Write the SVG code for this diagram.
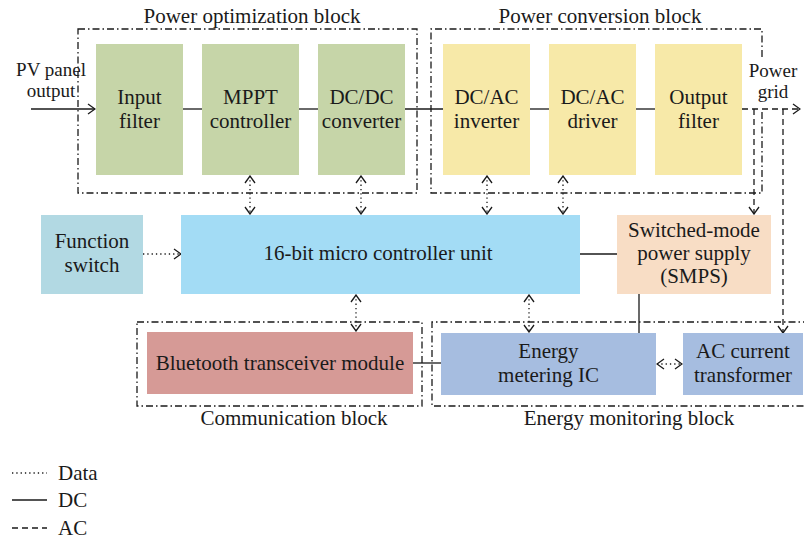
<svg xmlns="http://www.w3.org/2000/svg" width="804" height="541" viewBox="0 0 804 541">
<defs>
<style>
text{font-family:"Liberation Serif","Times New Roman",serif;font-size:21px;fill:#1a1a1a;text-anchor:middle}
.sm{font-size:19px}
.blk{fill:none;stroke:#1a1a1a;stroke-width:1.3;stroke-dasharray:7 3 1.5 3}
.dc{fill:none;stroke:#1a1a1a;stroke-width:1.3}
.ac{fill:none;stroke:#1a1a1a;stroke-width:1.3;stroke-dasharray:6 4}
.data{fill:none;stroke:#1a1a1a;stroke-width:1.3;stroke-dasharray:1.3 3}
.g{fill:#c6d5a8}.y{fill:#f7e9a8}
</style>
<marker id="ah" viewBox="0 0 10 12" refX="9" refY="6" markerWidth="10" markerHeight="12" markerUnits="userSpaceOnUse" orient="auto-start-reverse">
<path d="M2,1 L9,6 L2,11" fill="none" stroke="#1a1a1a" stroke-width="1.3"/>
</marker>
</defs>

<g id="block-frames">
<rect class="blk" x="78" y="29" width="339" height="164"/>
<path class="blk" d="M762,57 V29 H431 V193 H762 V109"/>
<rect class="blk" x="137" y="322" width="285" height="84"/>
<path class="blk" d="M810,322 H432 V406 H810"/>
</g>

<g id="block-titles">
<text x="252" y="23">Power optimization block</text>
<text x="600" y="23">Power conversion block</text>
<text x="294" y="425">Communication block</text>
<text x="629" y="425">Energy monitoring block</text>
</g>

<g id="connectors">
<line class="dc" x1="31" y1="109" x2="95" y2="109" marker-end="url(#ah)"/>
<line class="dc" x1="183" y1="109" x2="202" y2="109"/>
<line class="dc" x1="299" y1="109" x2="318" y2="109"/>
<line class="dc" x1="405" y1="109" x2="443" y2="109"/>
<line class="dc" x1="530" y1="109" x2="549" y2="109"/>
<line class="dc" x1="636" y1="109" x2="655" y2="109"/>
<line class="ac" x1="742" y1="109" x2="800" y2="109" marker-end="url(#ah)"/>
<path class="ac" d="M754,109 V214" marker-end="url(#ah)"/>
<path class="ac" d="M783,109 V333" marker-end="url(#ah)"/>
<line class="data" x1="143" y1="254" x2="181" y2="254" marker-end="url(#ah)"/>
<line class="data" x1="250" y1="176" x2="250" y2="214" marker-start="url(#ah)" marker-end="url(#ah)"/>
<line class="data" x1="361" y1="176" x2="361" y2="214" marker-start="url(#ah)" marker-end="url(#ah)"/>
<line class="data" x1="487" y1="176" x2="487" y2="214" marker-start="url(#ah)" marker-end="url(#ah)"/>
<line class="data" x1="563" y1="176" x2="563" y2="214" marker-start="url(#ah)" marker-end="url(#ah)"/>
<line class="data" x1="356" y1="295" x2="356" y2="331" marker-start="url(#ah)" marker-end="url(#ah)"/>
<line class="data" x1="529" y1="295" x2="529" y2="332" marker-start="url(#ah)" marker-end="url(#ah)"/>
<line class="data" x1="657" y1="364" x2="682" y2="364" marker-start="url(#ah)" marker-end="url(#ah)"/>
<line class="dc" x1="580" y1="254" x2="617" y2="254"/>
<line class="dc" x1="639" y1="294" x2="639" y2="333"/>
<line class="dc" x1="413" y1="363" x2="441" y2="363"/>
</g>

<g id="pv-label"><text class="sm" x="51" y="76">PV panel</text><text class="sm" x="51" y="97">output</text></g>
<g id="grid-label"><text class="sm" x="773" y="77">Power</text><text class="sm" x="773" y="98">grid</text></g>

<g id="input-filter"><rect class="g" x="96" y="44" width="87" height="131"/><text x="139.5" y="104">Input</text><text x="139.5" y="128">filter</text></g>
<g id="mppt"><rect class="g" x="202" y="44" width="97" height="131"/><text x="250.5" y="104">MPPT</text><text x="250.5" y="128">controller</text></g>
<g id="dcdc"><rect class="g" x="318" y="44" width="87" height="131"/><text x="361.5" y="104">DC/DC</text><text x="361.5" y="128">converter</text></g>
<g id="dcac-inverter"><rect class="y" x="443" y="44" width="87" height="131"/><text x="486.5" y="104">DC/AC</text><text x="486.5" y="128">inverter</text></g>
<g id="dcac-driver"><rect class="y" x="549" y="44" width="87" height="131"/><text x="592.5" y="104">DC/AC</text><text x="592.5" y="128">driver</text></g>
<g id="output-filter"><rect class="y" x="655" y="44" width="87" height="131"/><text x="698.5" y="104">Output</text><text x="698.5" y="128">filter</text></g>

<g id="function-switch"><rect x="41" y="215" width="102" height="79" fill="#b2d9e3"/><text x="92" y="248">Function</text><text x="92" y="272">switch</text></g>
<g id="mcu"><rect x="181" y="215" width="399" height="79" fill="#a3dcf5"/><text x="378" y="260">16-bit micro controller unit</text></g>
<g id="smps"><rect x="617" y="215" width="154" height="79" fill="#f8ddc5"/><text x="694" y="237">Switched-mode</text><text x="694" y="260">power supply</text><text x="694" y="283">(SMPS)</text></g>

<g id="bluetooth"><rect x="147" y="332" width="266" height="62" fill="#d69a96"/><text x="280" y="370">Bluetooth transceiver module</text></g>
<g id="energy-ic"><rect x="441" y="333" width="215" height="62" fill="#a6bde0"/><text x="548.5" y="358">Energy</text><text x="548.5" y="382">metering IC</text></g>
<g id="ac-ct"><rect x="683" y="333" width="120" height="62" fill="#a6bde0"/><text x="743" y="358">AC current</text><text x="743" y="382">transformer</text></g>

<g id="legend">
<line class="data" x1="12" y1="473" x2="47" y2="473"/><text x="58" y="480" style="text-anchor:start">Data</text>
<line class="dc" x1="12" y1="500" x2="47" y2="500"/><text x="58" y="507" style="text-anchor:start">DC</text>
<line class="ac" x1="12" y1="528" x2="47" y2="528"/><text x="58" y="535" style="text-anchor:start">AC</text>
</g>
</svg>
